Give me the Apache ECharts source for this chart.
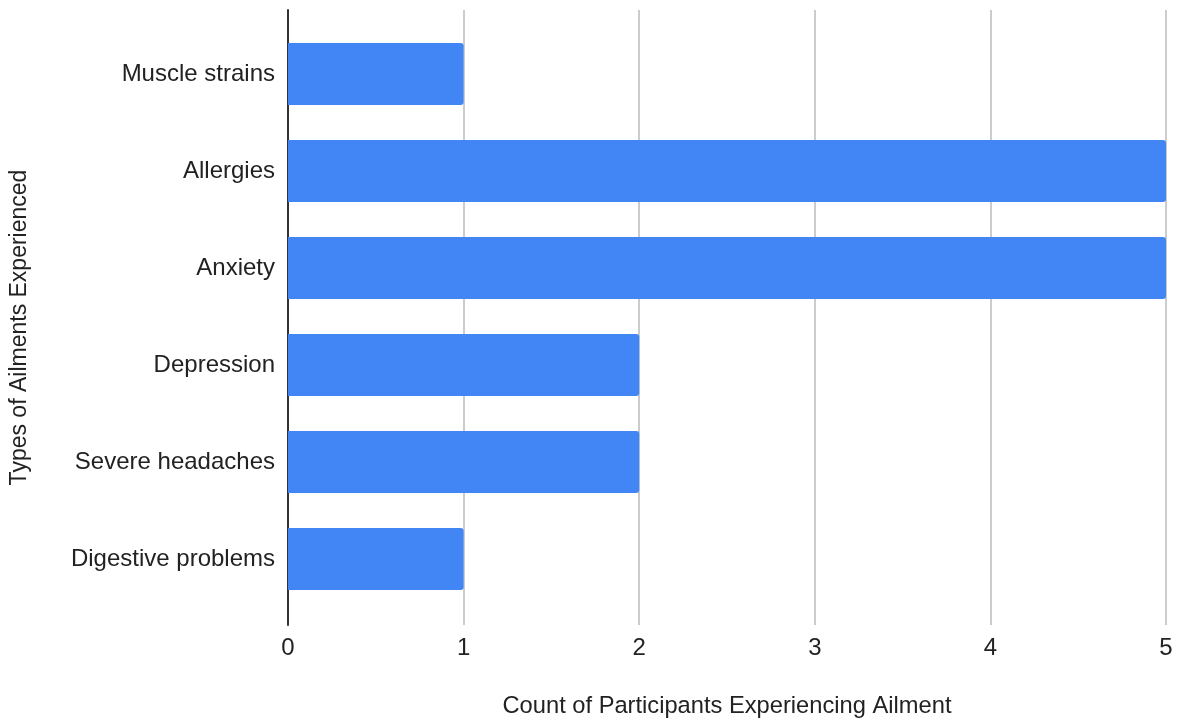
<!DOCTYPE html>
<html>
<head>
<meta charset="utf-8">
<script src="https://cdn.jsdelivr.net/npm/echarts@6/dist/echarts.min.js"></script>
<style>html,body{margin:0;padding:0;background:#fff;}#c{width:1178px;height:724px;}</style>
</head>
<body>
<div id="c"></div>
<script>
const categories = ["Muscle strains", "Allergies", "Anxiety", "Depression", "Severe headaches", "Digestive problems"];
const counts = [1, 5, 5, 2, 2, 1];
const xTicks = [0, 1, 2, 3, 4, 5];
const xTitle = "Count of Participants Experiencing Ailment";
const yTitle = "Types of Ailments Experienced";

const chart = echarts.init(document.getElementById('c'), null, {renderer: 'canvas'});
const font = "'Liberation Sans', Arial, sans-serif";
const txt = '#222222';
const fs = 24;
chart.setOption({
  backgroundColor: '#ffffff',
  animation: false,
  grid: [
    {left: 288, right: 12, top: 10, bottom: 99},
    {left: 288, right: 12, top: 25.5, bottom: 116.5}
  ],
  xAxis: [
    {
      gridIndex: 0, type: 'value', min: xTicks[0], max: xTicks[xTicks.length - 1], interval: 1,
      axisLine: {show: false}, axisTick: {show: false},
      splitLine: {show: true, lineStyle: {color: '#cccccc', width: 2}},
      axisLabel: {margin: 11, fontSize: fs, color: txt, fontFamily: font},
      name: xTitle, nameLocation: 'middle', nameGap: 69,
      nameTextStyle: {fontSize: 23.7, color: txt, fontFamily: font}
    },
    {
      gridIndex: 1, type: 'value', min: xTicks[0], max: xTicks[xTicks.length - 1], interval: 1,
      show: false
    }
  ],
  yAxis: [
    {
      gridIndex: 0, type: 'category', data: categories, inverse: true,
      axisLine: {show: true, lineStyle: {color: '#333333', width: 2}},
      axisTick: {show: false}, axisLabel: {show: false}, splitLine: {show: false},
      name: yTitle, nameLocation: 'middle', nameGap: 257,
      nameTextStyle: {fontSize: 23, color: txt, fontFamily: font, padding: [0, 20, 0, 0]}
    },
    {
      gridIndex: 1, type: 'category', data: categories, inverse: true,
      axisLine: {show: false}, axisTick: {show: false}, splitLine: {show: false},
      axisLabel: {margin: 13, fontSize: fs, color: txt, fontFamily: font, padding: [3, 0, 0, 0]}
    }
  ],
  series: [{
    type: 'bar', xAxisIndex: 1, yAxisIndex: 1, data: counts,
    barCategoryGap: '36%',
    itemStyle: {color: '#4285f4', borderRadius: [0, 3, 3, 0]}
  }]
});
</script>
</body>
</html>
